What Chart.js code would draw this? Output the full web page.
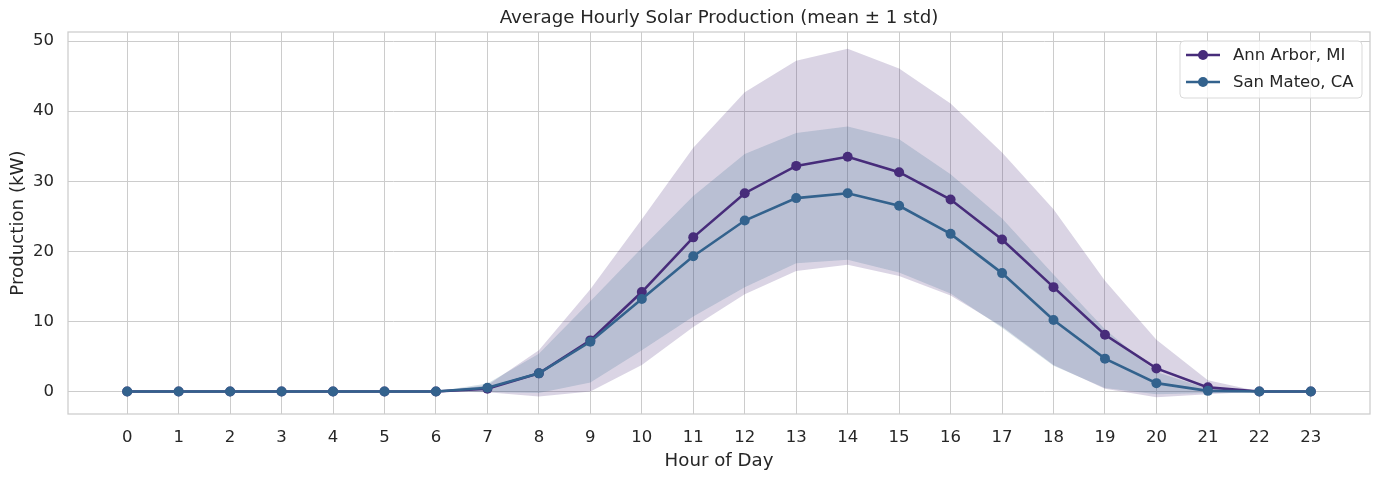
<!DOCTYPE html>
<html>
<head>
<meta charset="utf-8">
<script src="https://cdn.jsdelivr.net/npm/chart.js@4"></script>
<style>
  html, body { margin: 0; padding: 0; background: #fff; }
  #wrap { width: 1380px; height: 480px; }
</style>
</head>
<body>
<div id="wrap"><canvas id="solarChart" width="1380" height="480"></canvas></div>
<script>
// data
const hours = [0,1,2,3,4,5,6,7,8,9,10,11,12,13,14,15,16,17,18,19,20,21,22,23];
const annArborMean = [0,0,0,0,0,0,0,0.4,2.6,7.3,14.2,22.0,28.3,32.2,33.5,31.3,27.4,21.7,14.9,8.1,3.3,0.6,0,0];
const annArborStd  = [0,0,0,0,0,0,0,0.5,3.3,7.3,10.4,12.8,14.4,15.0,15.4,14.8,13.7,12.4,11.1,7.7,4.1,1.0,0,0];
const sanMateoMean = [0,0,0,0,0,0,0,0.55,2.6,7.1,13.2,19.3,24.4,27.6,28.3,26.5,22.5,16.9,10.2,4.7,1.2,0.1,0,0];
const sanMateoStd  = [0,0,0,0,0,0,0,0.6,2.8,5.8,7.3,8.6,9.5,9.3,9.5,9.5,8.5,7.8,6.5,4.2,1.6,0.3,0,0];
const yTicks = [0,10,20,30,40,50];
const seriesNames = ['Ann Arbor, MI', 'San Mateo, CA'];

const annColor = '#472c7a';
const sanColor = '#33628d';
const gridColor = '#cccccc';
const textColor = '#262626';
const fontFamily = '"DejaVu Sans", sans-serif';

function pts(vals) {
    return hours.map((h, i) => ({ x: h, y: vals[i] }));
}
function band(mean, std, sign) {
    return hours.map((h, i) => ({ x: h, y: mean[i] + sign * std[i] }));
}

// title, frame and legend drawn like matplotlib
const decorPlugin = {
    id: 'decor',
    afterDraw(chart) {
        const ctx = chart.ctx;
        const a = chart.chartArea;
        ctx.save();

        // spines
        ctx.strokeStyle = gridColor;
        ctx.lineWidth = 1.25;
        ctx.strokeRect(a.left, a.top, a.right - a.left, a.bottom - a.top);

        // title
        ctx.fillStyle = textColor;
        ctx.font = '18.2px ' + fontFamily;
        ctx.textAlign = 'center';
        ctx.textBaseline = 'middle';
        ctx.fillText('Average Hourly Solar Production (mean \u00b1 1 std)', (a.left + a.right) / 2, 18);

        // legend
        const bx = 1180, by = 41, bw = 182, bh = 57, r = 4;
        ctx.beginPath();
        ctx.roundRect(bx, by, bw, bh, r);
        ctx.fillStyle = 'rgba(255,255,255,0.8)';
        ctx.fill();
        ctx.strokeStyle = '#d9d9d9';
        ctx.lineWidth = 1;
        ctx.stroke();

        const rows = [[seriesNames[0], annColor, 55], [seriesNames[1], sanColor, 82]];
        ctx.font = '16.5px ' + fontFamily;
        ctx.textAlign = 'left';
        rows.forEach(([name, color, y]) => {
            ctx.strokeStyle = color;
            ctx.lineWidth = 2.6;
            ctx.beginPath();
            ctx.moveTo(1186, y);
            ctx.lineTo(1220, y);
            ctx.stroke();
            ctx.fillStyle = color;
            ctx.beginPath();
            ctx.arc(1203, y, 5, 0, Math.PI * 2);
            ctx.fill();
            ctx.fillStyle = textColor;
            ctx.fillText(name, 1233, y + 1);
        });
        ctx.restore();
    }
};

const ctx = document.getElementById('solarChart').getContext('2d');
new Chart(ctx, {
    type: 'line',
    data: {
        datasets: [
            {
                label: seriesNames[1],
                data: pts(sanMateoMean),
                borderColor: sanColor,
                backgroundColor: sanColor,
                borderWidth: 2.6,
                pointRadius: 5,
                pointBorderWidth: 0,
                fill: false,
                order: 0
            },
            {
                label: seriesNames[0],
                data: pts(annArborMean),
                borderColor: annColor,
                backgroundColor: annColor,
                borderWidth: 2.6,
                pointRadius: 5,
                pointBorderWidth: 0,
                fill: false,
                order: 1
            },
            {
                label: 'sm upper',
                data: band(sanMateoMean, sanMateoStd, 1),
                borderWidth: 0,
                pointRadius: 0,
                backgroundColor: 'rgba(49,104,142,0.2)',
                fill: '+1',
                order: 2
            },
            {
                label: 'sm lower',
                data: band(sanMateoMean, sanMateoStd, -1),
                borderWidth: 0,
                pointRadius: 0,
                fill: false,
                order: 2
            },
            {
                label: 'aa upper',
                data: band(annArborMean, annArborStd, 1),
                borderWidth: 0,
                pointRadius: 0,
                backgroundColor: 'rgba(72,40,120,0.2)',
                fill: '+1',
                order: 3
            },
            {
                label: 'aa lower',
                data: band(annArborMean, annArborStd, -1),
                borderWidth: 0,
                pointRadius: 0,
                fill: false,
                order: 3
            }
        ]
    },
    options: {
        responsive: false,
        animation: false,
        layout: { padding: { left: 0, right: 10, top: 32, bottom: 0 } },
        plugins: {
            legend: { display: false },
            tooltip: { enabled: false },
            title: { display: false }
        },
        scales: {
            x: {
                type: 'linear',
                min: -1.15,
                max: 24.15,
                afterBuildTicks: (scale) => { scale.ticks = hours.map(v => ({ value: v })); },
                afterFit: (scale) => { scale.height = 66; },
                grid: { color: gridColor, lineWidth: 1, drawTicks: false },
                border: { display: false },
                ticks: {
                    color: textColor,
                    font: { family: fontFamily, size: 16.5 },
                    padding: 14,
                    maxRotation: 0,
                    autoSkip: false
                },
                title: {
                    display: true,
                    text: 'Hour of Day',
                    color: textColor,
                    font: { family: fontFamily, size: 18.2 },
                    padding: { top: 0, bottom: 8 }
                }
            },
            y: {
                min: -3.2,
                max: 51.3,
                afterBuildTicks: (scale) => { scale.ticks = yTicks.map(v => ({ value: v })); },
                afterFit: (scale) => { scale.width = 68; },
                grid: { color: gridColor, lineWidth: 1, drawTicks: false },
                border: { display: false },
                ticks: {
                    color: textColor,
                    font: { family: fontFamily, size: 16.5 },
                    padding: 14
                },
                title: {
                    display: true,
                    text: 'Production (kW)',
                    color: textColor,
                    font: { family: fontFamily, size: 18.2 },
                    padding: { top: 7, bottom: 0 }
                }
            }
        }
    },
    plugins: [decorPlugin]
});
</script>
</body>
</html>
